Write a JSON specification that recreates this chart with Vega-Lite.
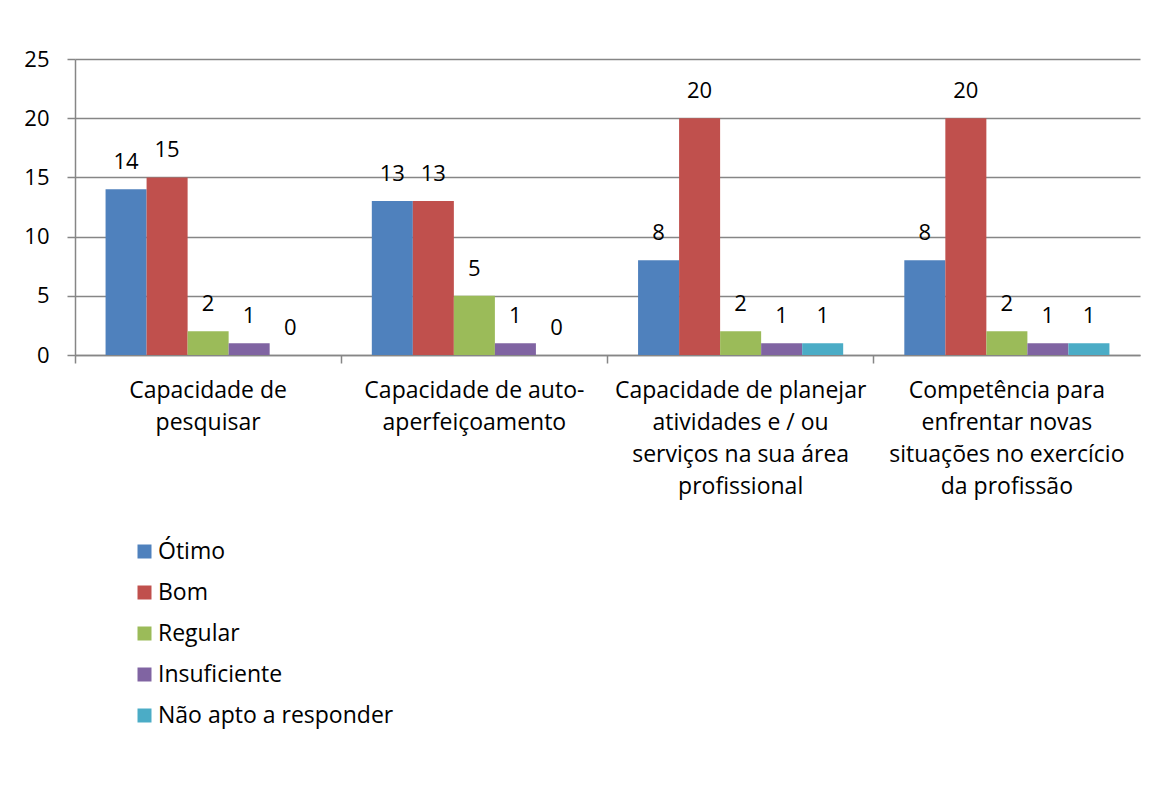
{
  "$schema": "https://vega.github.io/schema/vega-lite/v6.json",
  "width": 1065,
  "height": 296,
  "autosize": {"type": "none"},
  "padding": {"left": 75, "top": 59, "right": 36, "bottom": 443},
  "background": "white",
  "config": {
    "font": "Open Sans",
    "view": {"stroke": null},
    "axis": {"labelFont": "Open Sans", "labelColor": "#000000", "labelFontSize": 22}
  },
  "data": {
    "values": [
      {"categoria": "Capacidade de pesquisar", "avaliacao": "Ótimo", "n": 14},
      {"categoria": "Capacidade de pesquisar", "avaliacao": "Bom", "n": 15},
      {"categoria": "Capacidade de pesquisar", "avaliacao": "Regular", "n": 2},
      {"categoria": "Capacidade de pesquisar", "avaliacao": "Insuficiente", "n": 1},
      {"categoria": "Capacidade de pesquisar", "avaliacao": "Não apto a responder", "n": 0},
      {"categoria": "Capacidade de auto-aperfeiçoamento", "avaliacao": "Ótimo", "n": 13},
      {"categoria": "Capacidade de auto-aperfeiçoamento", "avaliacao": "Bom", "n": 13},
      {"categoria": "Capacidade de auto-aperfeiçoamento", "avaliacao": "Regular", "n": 5},
      {"categoria": "Capacidade de auto-aperfeiçoamento", "avaliacao": "Insuficiente", "n": 1},
      {"categoria": "Capacidade de auto-aperfeiçoamento", "avaliacao": "Não apto a responder", "n": 0},
      {"categoria": "Capacidade de planejar atividades e / ou serviços na sua área profissional", "avaliacao": "Ótimo", "n": 8},
      {"categoria": "Capacidade de planejar atividades e / ou serviços na sua área profissional", "avaliacao": "Bom", "n": 20},
      {"categoria": "Capacidade de planejar atividades e / ou serviços na sua área profissional", "avaliacao": "Regular", "n": 2},
      {"categoria": "Capacidade de planejar atividades e / ou serviços na sua área profissional", "avaliacao": "Insuficiente", "n": 1},
      {"categoria": "Capacidade de planejar atividades e / ou serviços na sua área profissional", "avaliacao": "Não apto a responder", "n": 1},
      {"categoria": "Competência para enfrentar novas situações no exercício da profissão", "avaliacao": "Ótimo", "n": 8},
      {"categoria": "Competência para enfrentar novas situações no exercício da profissão", "avaliacao": "Bom", "n": 20},
      {"categoria": "Competência para enfrentar novas situações no exercício da profissão", "avaliacao": "Regular", "n": 2},
      {"categoria": "Competência para enfrentar novas situações no exercício da profissão", "avaliacao": "Insuficiente", "n": 1},
      {"categoria": "Competência para enfrentar novas situações no exercício da profissão", "avaliacao": "Não apto a responder", "n": 1}
    ]
  },
  "encoding": {
    "x": {
      "field": "categoria",
      "type": "nominal",
      "sort": null,
      "scale": {"paddingInner": 0, "paddingOuter": 0},
      "axis": {
        "title": null,
        "labelAngle": 0,
        "bandPosition": 0,
        "labelAlign": "center",
        "labelBaseline": "top",
        "labelFontSize": 23,
        "labelPadding": 16,
        "labelLineHeight": 32,
        "labelLimit": 300,
        "domainColor": "#868686",
        "domainWidth": 1.5,
        "tickColor": "#868686",
        "tickWidth": 1.5,
        "tickSize": 8,
        "labelExpr": "{'Capacidade de pesquisar': ['Capacidade de', 'pesquisar'], 'Capacidade de auto-aperfeiçoamento': ['Capacidade de auto-', 'aperfeiçoamento'], 'Capacidade de planejar atividades e / ou serviços na sua área profissional': ['Capacidade de planejar', 'atividades e / ou', 'serviços na sua área', 'profissional'], 'Competência para enfrentar novas situações no exercício da profissão': ['Competência para', 'enfrentar novas', 'situações no exercício', 'da profissão']}[datum.value]"
      }
    },
    "xOffset": {
      "field": "avaliacao",
      "type": "nominal",
      "sort": ["Ótimo", "Bom", "Regular", "Insuficiente", "Não apto a responder"],
      "scale": {"paddingInner": 0, "paddingOuter": 0.745}
    },
    "y": {
      "field": "n",
      "type": "quantitative",
      "scale": {"domain": [0, 25], "nice": false},
      "axis": {
        "title": null,
        "values": [0, 5, 10, 15, 20, 25],
        "grid": true,
        "gridColor": "#868686",
        "gridWidth": 1.5,
        "domainColor": "#868686",
        "domainWidth": 1.5,
        "tickColor": "#868686",
        "tickWidth": 1.5,
        "tickSize": 8,
        "labelPadding": 18
      }
    }
  },
  "layer": [
    {
      "mark": {"type": "bar"},
      "encoding": {
        "color": {
          "field": "avaliacao",
          "type": "nominal",
          "sort": ["Ótimo", "Bom", "Regular", "Insuficiente", "Não apto a responder"],
          "scale": {
            "domain": ["Ótimo", "Bom", "Regular", "Insuficiente", "Não apto a responder"],
            "range": ["#4F81BD", "#C0504D", "#9BBB59", "#8064A2", "#4BACC6"]
          },
          "legend": {
            "title": null,
            "orient": "none",
            "legendX": 58,
            "legendY": 481,
            "direction": "vertical",
            "symbolType": "square",
            "symbolSize": 196,
            "symbolStrokeWidth": 0,
            "labelFontSize": 23,
            "labelFont": "Open Sans",
            "labelColor": "#000000",
            "labelLimit": 400,
            "labelOffset": 2,
            "rowPadding": 17,
            "padding": 0
          }
        }
      }
    },
    {
      "mark": {"type": "text", "fontSize": 22, "font": "Open Sans", "color": "#000000", "baseline": "middle", "dy": -27},
      "encoding": {
        "text": {"field": "n", "type": "quantitative"}
      }
    }
  ]
}
